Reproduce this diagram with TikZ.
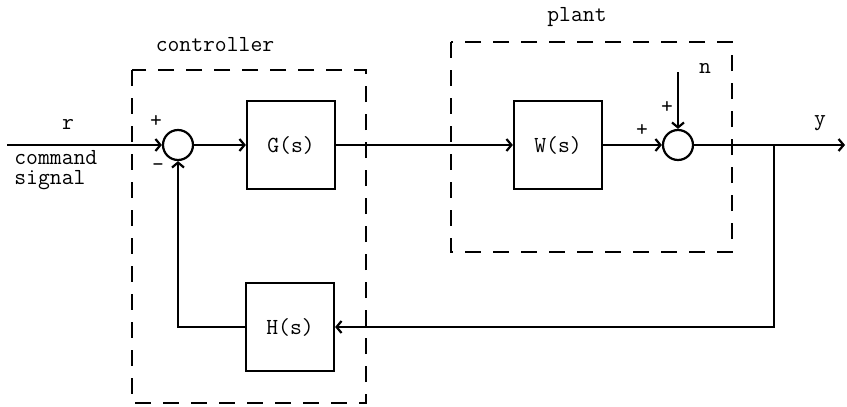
\documentclass[tikz,border=0pt]{standalone}
\usetikzlibrary{arrows.meta,positioning}

\begin{document}
\begin{tikzpicture}[
    x=0.5pt, y=-0.5pt,
    blk/.style={draw, line width=1.1pt, minimum size=44pt, font=\fontsize{11.5}{14}\ttfamily},
    sum/.style={circle, draw, line width=1.1pt, minimum size=15pt, inner sep=0pt},
    lbl/.style={font=\fontsize{11.5}{14}\ttfamily, inner sep=1pt},
    arr/.style={-{Straight Barb[length=2.5pt,width=6pt]}, line width=1.1pt},
    frame/.style={dash pattern=on 8pt off 6pt, line width=1.1pt}
]
    \useasboundingbox (0,0) rectangle (847,407);
    % dashed frames
    \draw[frame] (132,70) rectangle (366,403);
    \draw[frame] (451,42) rectangle (732,252);
    \node[lbl] (ctrl) at (215,45) {controller};
    \node[lbl] (plnt) at (577,17) {plant};
    % blocks
    \node[sum] (S1) at (178,145) {};
    \node[blk] (G) at (291,145) {G(s)};
    \node[blk] (W) at (558,145) {W(s)};
    \node[sum] (S2) at (678,145) {};
    \node[blk] (H) at (290,327) {H(s)};
    \coordinate (rin) at (7,145);
    \coordinate (nin) at (678,72);
    \coordinate (br) at (774,145);
    \coordinate (yout) at (845,145);
    % labels
    \node[lbl] (r) at (68,124) {r};
    \node[lbl, anchor=base west] (cmd) at (12,164) {command};
    \node[lbl, anchor=base west, below=1pt of cmd.south west, anchor=north west] (sig) {signal};
    \node[lbl] (p1) at (156,121) {+};
    \node[lbl] (m1) at (158,168) {-};
    \node[lbl] (p2) at (642,130) {+};
    \node[lbl] (p3) at (667,107) {+};
    \node[lbl] (n) at (705,68) {n};
    \node[lbl] (y) at (820,123) {y};
    % signal flow
    \draw[arr] (rin) -- (S1);
    \draw[arr] (S1) -- (G);
    \draw[arr] (G) -- (W);
    \draw[arr] (W) -- (S2);
    \draw[arr] (nin) -- (S2);
    \draw[arr] (S2) -- (yout);
    \draw[arr] (br) |- (H);
    \draw[arr] (H) -| (S1);
\end{tikzpicture}
\end{document}
